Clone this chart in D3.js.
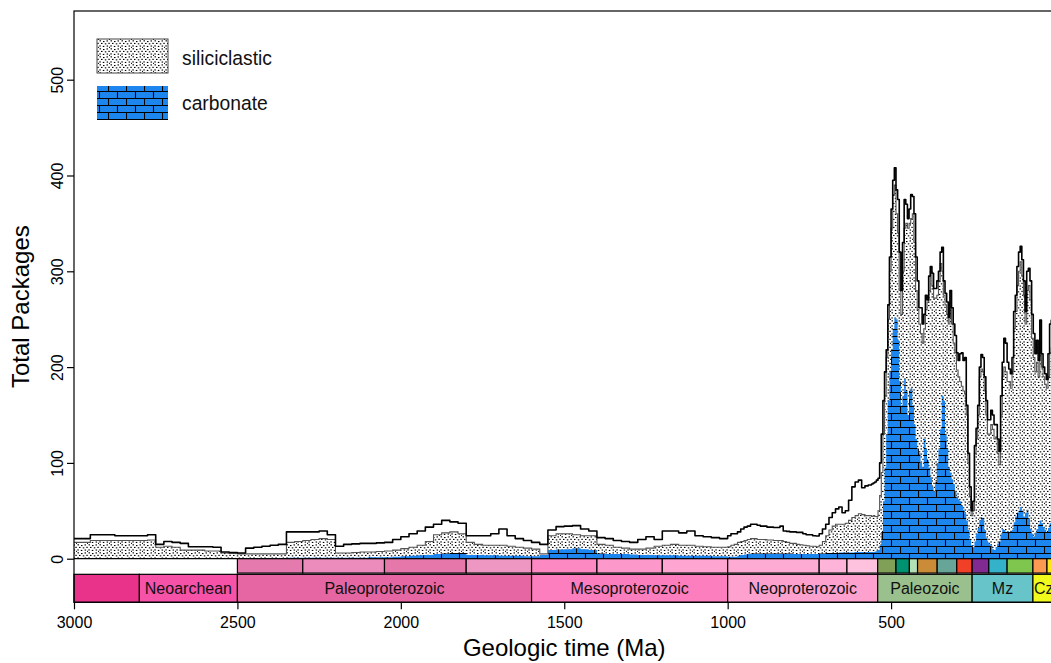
<!DOCTYPE html>
<html>
<head>
<meta charset="utf-8">
<script src="https://cdn.jsdelivr.net/npm/d3@7"></script>
<style>
  body { margin: 0; background: #fff; overflow: hidden; }
  svg { display: block; font-family: "Liberation Sans", Arial, Helvetica, sans-serif; }
</style>
</head>
<body>
<svg id="chart" width="1051" height="663"></svg>
<script>
// ---- data (ages in Ma, counts of packages) ----
const ages = [
  3000,2975,2950,2925,2900,2875,2850,2825,2800,2775,
  2750,2725,2700,2675,2650,2625,2600,2575,2550,2525,
  2500,2475,2450,2425,2400,2375,2350,2325,2300,2275,
  2250,2225,2200,2175,2150,2125,2100,2075,2050,2025,
  2000,1975,1950,1925,1900,1875,1850,1825,1800,1775,
  1750,1725,1700,1675,1650,1625,1600,1575,1550,1525,
  1500,1475,1450,1425,1400,1375,1350,1325,1300,1275,
  1250,1225,1200,1175,1150,1125,1100,1075,1050,1025,
  1000,
  990,980,970,960,950,940,930,920,910,900,
  890,880,870,860,850,840,830,820,810,800,
  790,780,770,760,750,740,730,720,710,700,
  690,680,670,660,650,640,630,620,610,600,
  590,580,570,560,
  555,550,545,540,535,530,525,520,515,510,
  505,500,495,490,485,480,475,470,465,460,
  455,450,445,440,435,430,425,420,415,410,
  405,400,395,390,385,380,375,370,365,360,
  355,350,345,340,335,330,325,320,315,310,
  305,300,295,290,285,280,275,270,265,260,
  255,250,245,240,235,230,225,220,215,210,
  205,200,195,190,185,180,175,170,165,160,
  155,150,145,140,135,130,125,120,115,110,
  105,100,95,90,85,80,75,70,65,60,
  55,50,45,40,35,30,25,20,15,10,
  5,0
];

const totalPackages = [
  21,21,25,25,25,24,24,24,24,25,
  15,18,17,16,12.5,12.5,12.5,12,7,6.5,
  6,11,12,13,14,15,28,28,28,28,
  29,25,13,15,15.5,16,16,16.5,17,20,
  23,26,29,33,36,40,38.5,37,24,24,
  24,26,31,24,21,19,17,15,30,33.5,
  34,34.5,31,29,22,21,19,18,17,20,
  23,20,29,29,27,29,24,23,22,21,
  24,
  26,26,28,31,33,34,36,36,35,34,
  34,33,33,32.5,32.5,34,29,28.5,28,28,
  27.5,27.5,26,25,25,24,23.7,26,31,36,
  43,48,52,54,48,50,61,75,80,82,
  74,76,77,78,
  79,80,82,84,100,130,165,195,218,265,
  315,365,395,408,385,375,320,280,330,375,
  370,355,365,380,378,360,315,290,262,262,
  245,255,275,270,295,305,298,282,282,290,
  300,320,325,290,277,268,252,280,262,245,
  233,215,207,214,215,207,210,160,110,75,
  50,60,118,136,160,200,213,210,190,165,
  145,145,155,150,140,140,125,112,170,205,
  230,225,205,198,193,210,258,275,305,320,
  326,312,290,258,300,303,290,255,235,214,
  228,207,249,214,200,193,187,214,245,249,
  245,240
];

const siliciclastic = [
  17,17,19,19,19,19,19,19,19,19.5,
  12,13,12,9,9,9,8,8,6,5.5,
  5,5,5,5,5,5,17,18,19,20,
  21,20,6,6,6.5,7,7,7.5,8,9,
  10.5,12,14,18,25,27,28,26,17,15,
  14,14,14,13,12,11,10,5,24,26,
  26,25,24,24,15,14,12,11,10,10,
  11,13,14,15,14,14,13,12.5,12,12,
  12.5,
  14,15,17,18,19,20,21,21,20,20,
  20,19.5,19.5,19,19,19,18,17,16,16,
  15,14.5,14,13.5,13,13,12.5,14,18,24,
  30,34,36,36,36,37,40,43,45,47,
  46,45,45,44,
  45,44,44,50,66,90,130,170,210,250,
  300,345,380,390,360,340,280,255,300,345,
  350,345,350,355,360,330,280,260,245,235,
  225,240,260,268,280,300,285,272,272,275,
  290,308,300,275,265,255,245,262,245,225,
  215,197,190,185,180,175,172,150,100,65,
  45,50,110,125,150,190,198,195,175,150,
  130,130,140,135,125,127,110,98,150,190,
  200,195,185,185,178,195,240,258,285,300,
  310,295,275,245,280,285,270,230,210,195,
  205,190,225,200,190,182,178,190,215,220,
  215,210
];

const carbonate = [
  0,0,0,0,0,0,0,0,0,0,
  0,0,0,0,0,0,0,0,0,0,
  0,0.5,0.5,0.5,0.5,0.5,1,1,1,1,
  1,1,1,1,1,1,1.5,1.5,1.5,2,
  2.5,3,3.5,4,5,5.5,6,6,4,4,
  3.5,3.5,3,3,3,2.5,2.5,4,9,9.5,
  10,11,10,9,5.5,5,5,5,4.5,4,
  4,3.5,3.5,3.5,3,3,3,3,2.5,2.5,
  2,
  2,2,3,4,4.5,5,5.5,5.5,5.5,5.5,
  5.5,5.5,5.5,5.5,5.5,5.5,5.5,5.5,5.5,5,
  5,5,5,5,5,5,5,5.5,5.5,6,
  6,6,6,6.5,6.5,6.5,6.5,6.5,7,7,
  7,7,7,7,
  7,7.5,8,9,14,28,60,95,130,165,
  195,218,240,252,250,228,185,160,170,188,
  175,150,175,178,160,140,125,115,110,100,
  95,125,115,103,95,85,75,70,80,100,
  115,135,170,165,130,115,95,90,83,78,
  70,64,62,60,55,51,47,40,30,20,
  14,12,18,26,32,40,43,42,30,22,
  17,15,13,10,9,12,16,18,25,31,
  30,28,29,28,28,30,38,44,48,50,
  54,50,44,48,51,42,31,26,23,27,
  31,36,40,37,33,30,28,32,37,38,
  35,33
];

// geologic timescale
const eraNames  = ["Mesoarchean","Neoarchean","Paleoproterozoic","Mesoproterozoic","Neoproterozoic","Paleozoic","Mz","Cz"];
const eraStart  = [3200, 2800, 2500, 1600, 1000, 541, 252, 66];
const eraEnd    = [2800, 2500, 1600, 1000, 541, 252, 66, 0];
const eraColors = ["#e9338b","#f552a8","#e566a2","#fd7ebe","#fea1cf","#99c08d","#67c5ca","#f2f91d"];

const periodNames  = ["Siderian","Rhyacian","Orosirian","Statherian","Calymmian","Ectasian","Stenian",
  "Tonian","Cryogenian","Ediacaran","Cambrian","Ordovician","Silurian","Devonian","Carboniferous",
  "Permian","Triassic","Jurassic","Cretaceous","Paleogene","Neogene","Quaternary"];
const periodStart  = [2500,2300,2050,1800,1600,1400,1200,1000,720,635,541,485,444,419,359,299,252,201,145,66,23,2.6];
const periodEnd    = [2300,2050,1800,1600,1400,1200,1000,720,635,541,485,444,419,359,299,252,201,145,66,23,2.6,0];
const periodColors = ["#e47aad","#eb8cbd","#e577ab","#ee97c2","#fd89c2","#fd99ca","#fea6d1",
  "#feabd4","#feb4d8","#fec2df","#7fa056","#009270","#b3e1b6","#cb8c37","#67a599",
  "#f04028","#812b92","#34b2c9","#7fc64e","#fd9a52","#ffe619","#f9f97f"];

const xTicks = [3000, 2500, 2000, 1500, 1000, 500];
const yTicks = [0, 100, 200, 300, 400, 500];

const legendLabels = ["siliciclastic", "carbonate"];

// ---- layout ----
const svg = d3.select("#chart");
const plotL = 74, plotR = 1054.5, plotT = 11, plotB = 602.3;

const x = d3.scaleLinear().domain([3000, 0]).range([plotL, plotR]);
const y = d3.scaleLinear().domain([-45.5, 571.7]).range([plotB, plotT]);

const series = ages.map((a, i) => ({
  age: a, total: totalPackages[i], sil: siliciclastic[i], carb: carbonate[i]
}));

// ---- patterns ----
const defs = svg.append("defs");

const stip = defs.append("pattern")
  .attr("id", "stipple")
  .attr("patternUnits", "userSpaceOnUse")
  .attr("width", 11).attr("height", 8);
stip.append("rect").attr("width", 11).attr("height", 8).attr("fill", "#fff");
[[0.5,0.3],[4,1],[7.5,0.4],[2,2.9],[5.8,3.3],[9.3,2.8],[0.3,5.4],[3.8,5.9],[7.6,5.5],[10,6.8]].forEach(p => {
  stip.append("rect").attr("x", p[0]).attr("y", p[1])
    .attr("width", 1.5).attr("height", 1.1).attr("fill", "#000");
});

const brick = defs.append("pattern")
  .attr("id", "brick")
  .attr("patternUnits", "userSpaceOnUse")
  .attr("width", 18).attr("height", 14);
brick.append("rect").attr("width", 18).attr("height", 14).attr("fill", "#1c86ee");
brick.append("path")
  .attr("d", "M0,0.5H18M0,7.5H18M0.5,0V7M9.5,7V14")
  .attr("stroke", "#000").attr("stroke-width", 1.1).attr("fill", "none");

defs.append("clipPath").attr("id", "plotclip")
  .append("rect").attr("x", plotL).attr("y", plotT)
  .attr("width", plotR - plotL).attr("height", y(0) - plotT);

// ---- data marks ----
const plot = svg.append("g").attr("clip-path", "url(#plotclip)");

const areaOf = key => d3.area()
  .x(d => x(d.age)).y0(y(0)).y1(d => y(d[key]))
  .curve(d3.curveStepAfter);
const lineOf = key => d3.line()
  .x(d => x(d.age)).y(d => y(d[key]))
  .curve(d3.curveStepAfter);

plot.append("path").datum(series)
  .attr("d", areaOf("sil")).attr("fill", "url(#stipple)");
plot.append("path").datum(series)
  .attr("d", areaOf("carb")).attr("fill", "url(#brick)");
plot.append("path").datum(series)
  .attr("d", lineOf("sil")).attr("fill", "none")
  .attr("stroke", "#555").attr("stroke-width", 1.1);
plot.append("path").datum(series)
  .attr("d", lineOf("total")).attr("fill", "none")
  .attr("stroke", "#000").attr("stroke-width", 1.6).attr("stroke-linejoin", "round");

// ---- timescale ----
const ts = svg.append("g");
ts.append("line")
  .attr("x1", plotL).attr("x2", plotR).attr("y1", y(0)).attr("y2", y(0))
  .attr("stroke", "#000").attr("stroke-width", 1.2);

ts.selectAll("rect.period").data(periodNames).join("rect")
  .attr("class", "period")
  .attr("x", (d, i) => x(periodStart[i]))
  .attr("width", (d, i) => x(periodEnd[i]) - x(periodStart[i]))
  .attr("y", y(0)).attr("height", y(-15) - y(0))
  .attr("fill", (d, i) => periodColors[i])
  .attr("stroke", "#000").attr("stroke-width", 1.2);

const eraG = ts.append("g");
eraG.selectAll("rect.era").data(eraNames).join("rect")
  .attr("class", "era")
  .attr("x", (d, i) => Math.max(plotL, x(eraStart[i])))
  .attr("width", (d, i) => x(eraEnd[i]) - Math.max(plotL, x(eraStart[i])))
  .attr("y", y(-16.3)).attr("height", y(-45.5) - y(-16.3))
  .attr("fill", (d, i) => eraColors[i])
  .attr("stroke", "#000").attr("stroke-width", 1.2);

// era labels; the short Cenozoic box keeps its label just as the source does
eraG.selectAll("text.era").data(eraNames).join("text")
  .attr("class", "era")
  .attr("x", (d, i) => (Math.max(plotL, x(eraStart[i])) + x(eraEnd[i])) / 2)
  .attr("y", (y(-16.3) + y(-45.5)) / 2)
  .attr("dy", "0.36em")
  .attr("text-anchor", "middle")
  .attr("font-size", 16)
  .attr("fill", "#111")
  .text(d => d)
  .each(function(d, i) {
    const w = x(eraEnd[i]) - Math.max(plotL, x(eraStart[i]));
    if (this.getComputedTextLength() > w - 1) d3.select(this).remove();
  });

// ---- frame ----
svg.append("rect")
  .attr("x", plotL).attr("y", plotT)
  .attr("width", plotR - plotL).attr("height", plotB - plotT)
  .attr("fill", "none").attr("stroke", "#000").attr("stroke-width", 1.2);

// ---- axes ----
const xAxis = svg.append("g")
  .attr("transform", `translate(0,${plotB})`)
  .call(d3.axisBottom(x).tickValues(xTicks).tickSize(7).tickPadding(7).tickFormat(d3.format("d")));
xAxis.select(".domain").remove();
xAxis.selectAll("line").attr("stroke", "#000").attr("stroke-width", 1.2);
xAxis.selectAll("text").attr("font-size", 16).attr("fill", "#000")
  .attr("font-family", "Liberation Sans, Arial, sans-serif");

const yAxis = svg.append("g")
  .attr("transform", `translate(${plotL},0)`)
  .call(d3.axisLeft(y).tickValues(yTicks).tickSize(7).tickFormat(d3.format("d")));
yAxis.select(".domain").remove();
yAxis.selectAll("line").attr("stroke", "#000").attr("stroke-width", 1.2);
yAxis.selectAll("text")
  .attr("x", null).attr("dy", null).attr("y", null)
  .attr("transform", "translate(-11,0) rotate(-90)")
  .attr("text-anchor", "middle")
  .attr("font-size", 16).attr("fill", "#000")
  .attr("font-family", "Liberation Sans, Arial, sans-serif");

svg.append("text")
  .attr("x", (plotL + plotR) / 2).attr("y", 656)
  .attr("text-anchor", "middle").attr("font-size", 24).attr("fill", "#000")
  .text("Geologic time (Ma)");

svg.append("text")
  .attr("transform", `translate(29,${(plotT + plotB) / 2}) rotate(-90)`)
  .attr("text-anchor", "middle").attr("font-size", 24).attr("fill", "#000")
  .text("Total Packages");

// ---- legend ----
const legend = svg.append("g");
const fills = ["url(#stipple)", "url(#brick)"];
legend.selectAll("rect").data(legendLabels).join("rect")
  .attr("x", 97).attr("y", (d, i) => 39 + i * 47)
  .attr("width", 71).attr("height", 34)
  .attr("fill", (d, i) => fills[i])
  .attr("stroke", (d, i) => i === 0 ? "#444" : "none")
  .attr("stroke-width", 1);
legend.selectAll("text").data(legendLabels).join("text")
  .attr("x", 182).attr("y", (d, i) => 64.5 + i * 45.5)
  .attr("font-size", 19.3).attr("fill", "#111")
  .text(d => d);
</script>
</body>
</html>
